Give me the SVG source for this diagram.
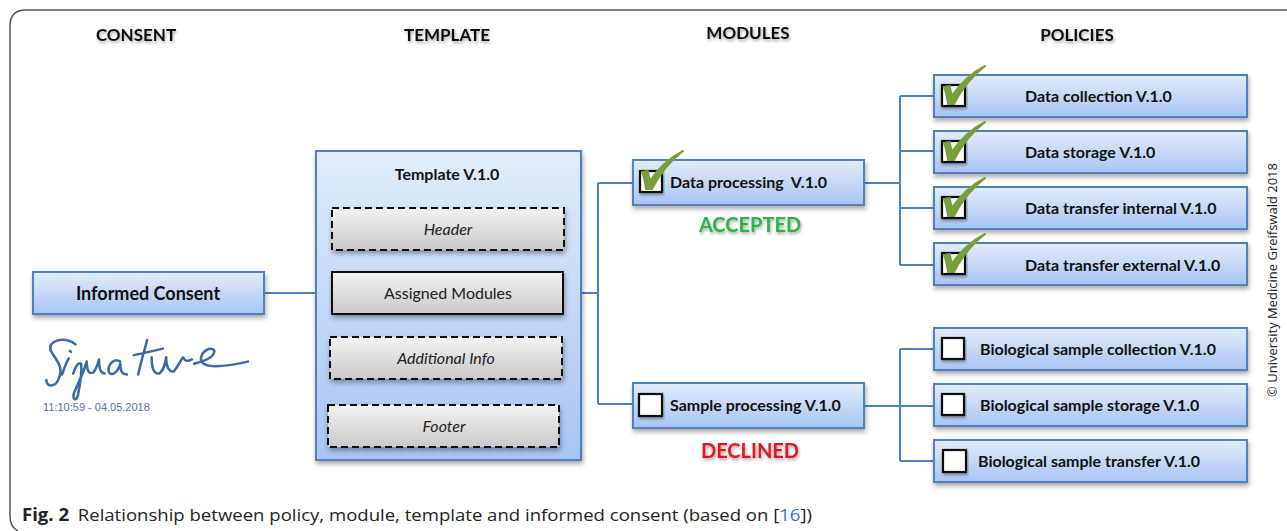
<svg xmlns="http://www.w3.org/2000/svg" width="1287" height="531" viewBox="0 0 1287 531">
<defs>
<linearGradient id="blue" x1="0" y1="0" x2="0" y2="1">
<stop offset="0" stop-color="#e2ecfb"/>
<stop offset="1" stop-color="#a7c5f3"/>
</linearGradient>
<linearGradient id="gray" x1="0" y1="0" x2="0" y2="1">
<stop offset="0" stop-color="#f3f3f3"/>
<stop offset="1" stop-color="#c9c9c9"/>
</linearGradient>
<filter id="sh" x="-10%" y="-20%" width="120%" height="150%">
<feDropShadow dx="1" dy="3" stdDeviation="2.5" flood-color="#000" flood-opacity="0.35"/>
</filter>
<filter id="tsh" x="-10%" y="-30%" width="120%" height="170%">
<feDropShadow dx="1" dy="2" stdDeviation="1.5" flood-color="#000" flood-opacity="0.35"/>
</filter>
<g id="check">
<path d="M 2 1 C 4 6 5 11 6 18 L 12 18 C 19 4 29 -9 43 -20 C 28 -12 17 -1 10 10 C 9 6 8 3 8 0 Z" fill="#76a03a" stroke="#76a03a" stroke-width="2" stroke-linejoin="round"/>
</g>
</defs>
<style>
.box{fill:url(#blue);stroke:#4f81bd;stroke-width:2;filter:url(#sh)}
.gbox{fill:url(#gray);stroke:#111;stroke-width:2;filter:url(#sh)}
.dash{stroke-dasharray:7 4}
.cb{fill:#fff;stroke:#111;stroke-width:2.2;filter:url(#tsh)}
.hdr{font-family:Lato,"Open Sans",sans-serif;font-weight:bold;font-size:17px;fill:#111;text-anchor:middle;filter:url(#tsh)}
.lbl{font-family:Lato,"Open Sans",sans-serif;font-weight:bold;font-size:16px;fill:#111}
.mid{text-anchor:middle}
.it{font-family:Lato,"Open Sans",sans-serif;font-style:italic;font-size:16px;fill:#222;text-anchor:middle}
.conn{fill:none;stroke:#4f81bd;stroke-width:2}
</style>
<rect width="1287" height="531" fill="#fff"/>
<path d="M 1287 10 H 26 Q 10 10 10 26 V 516 Q 10 527 18 531" fill="none" stroke="#555" stroke-width="1.5"/>

<g id="headers">
<text class="hdr" x="136" y="41">CONSENT</text>
<text class="hdr" x="447" y="41">TEMPLATE</text>
<text class="hdr" x="748" y="39">MODULES</text>
<text class="hdr" x="1077" y="41">POLICIES</text>
</g>

<g id="connectors">
<path class="conn" d="M 264 293 H 316"/>
<path class="conn" d="M 581 293 H 598 M 598 183 V 404 M 598 183 H 633 M 598 404 H 633"/>
<path class="conn" d="M 864 183 H 900 M 900 96 V 265 M 900 96 H 934 M 900 151 H 934 M 900 208 H 934 M 900 265 H 934"/>
<path class="conn" d="M 864 406 H 900 M 900 349 V 461 M 900 349 H 934 M 900 406 H 934 M 900 461 H 934"/>
</g>

<g id="informed-consent">
<rect class="box" x="33" y="272" width="231" height="42"/>
<text class="lbl mid" x="148" y="300" style="font-size:18px">Informed Consent</text>
</g>

<g id="signature">
<path transform="translate(43 340) scale(1.12 1.08) translate(-43 -340)" d="M 72 344 C 64 336 46 340 50 350 C 54 358 62 364 57 376 C 54 384 46 384 46 377 M 60 372 C 62 366 64 360 66 357 M 67 350 L 68 351 M 70 371 C 72 364 75 360 77 362 C 78 370 76 382 74 392 C 72 398 68 394 72 386 C 76 376 80 368 82 360 M 82 360 C 82 368 84 372 88 370 C 91 366 92 362 93 358 C 93 366 94 371 98 371 M 112 360 C 106 356 100 364 102 370 C 104 374 110 370 112 362 C 112 368 113 372 118 372 M 128 372 C 130 362 133 352 136 340 M 124 354 C 134 352 142 350 150 348 M 140 356 C 140 366 142 372 147 371 C 151 368 152 362 153 356 C 153 364 155 370 160 369 M 160 369 C 164 364 166 358 168 356 C 170 360 172 360 176 358 M 178 362 C 186 360 196 356 196 350 C 194 345 184 350 184 358 C 185 366 200 366 226 360" fill="none" stroke="#3d6ba4" stroke-width="2.3" stroke-linecap="round" stroke-linejoin="round"/>
<text x="43" y="411" font-family="Liberation Sans, Arial, sans-serif" font-size="11" fill="#5b7396">11:10:59 - 04.05.2018</text>
</g>

<g id="template">
<rect class="box" x="316" y="151" width="265" height="309"/>
<text class="lbl mid" x="447" y="180">Template V.1.0</text>
</g>
<g id="header">
<rect class="gbox dash" x="332" y="208" width="232" height="42"/>
<text class="it" x="448" y="235">Header</text>
</g>
<g id="assigned-modules">
<rect class="gbox" x="332" y="272" width="231" height="42"/>
<text class="it" x="448" y="299" style="font-style:normal">Assigned Modules</text>
</g>
<g id="additional-info">
<rect class="gbox dash" x="330" y="337" width="232" height="42"/>
<text class="it" x="446" y="364">Additional Info</text>
</g>
<g id="footer">
<rect class="gbox dash" x="328" y="405" width="231" height="42"/>
<text class="it" x="444" y="432">Footer</text>
</g>

<g id="data-processing">
<rect class="box" x="633" y="160" width="231" height="45"/>
<rect class="cb" x="640" y="171" width="22" height="21"/>
<use href="#check" x="640" y="171"/>
<text class="lbl" x="670" y="188" xml:space="preserve">Data processing  V.1.0</text>
</g>
<text id="accepted" x="750" y="232" font-family="Lato,'Open Sans',sans-serif" font-weight="bold" font-size="20" fill="#2eb24a" text-anchor="middle" filter="url(#tsh)">ACCEPTED</text>

<g id="sample-processing">
<rect class="box" x="633" y="383" width="231" height="45"/>
<rect class="cb" x="639" y="394" width="23" height="22"/>
<text class="lbl" x="670" y="411">Sample processing V.1.0</text>
</g>
<text id="declined" x="750" y="458" font-family="Lato,'Open Sans',sans-serif" font-weight="bold" font-size="20" fill="#e8141c" text-anchor="middle" filter="url(#tsh)">DECLINED</text>

<g id="data-collection">
<rect class="box" x="934" y="75" width="313" height="42"/>
<rect class="cb" x="942" y="85" width="23" height="21"/>
<use href="#check" x="942" y="86"/>
<text class="lbl" x="1025" y="102">Data collection V.1.0</text>
</g>
<g id="data-storage">
<rect class="box" x="934" y="131" width="313" height="42"/>
<rect class="cb" x="942" y="141" width="23" height="21"/>
<use href="#check" x="942" y="142"/>
<text class="lbl" x="1025" y="158">Data storage V.1.0</text>
</g>
<g id="data-transfer-internal">
<rect class="box" x="934" y="187" width="313" height="42"/>
<rect class="cb" x="942" y="197" width="23" height="21"/>
<use href="#check" x="942" y="198"/>
<text class="lbl" x="1025" y="214">Data transfer internal V.1.0</text>
</g>
<g id="data-transfer-external">
<rect class="box" x="934" y="243" width="313" height="42"/>
<rect class="cb" x="942" y="253" width="23" height="21"/>
<use href="#check" x="942" y="254"/>
<text class="lbl" x="1025" y="271">Data transfer external V.1.0</text>
</g>

<g id="bio-collection">
<rect class="box" x="934" y="328" width="313" height="42"/>
<rect class="cb" x="942" y="338" width="22" height="21"/>
<text class="lbl" x="980" y="355">Biological sample collection V.1.0</text>
</g>
<g id="bio-storage">
<rect class="box" x="934" y="384" width="313" height="42"/>
<rect class="cb" x="942" y="394" width="22" height="21"/>
<text class="lbl" x="980" y="411">Biological sample storage V.1.0</text>
</g>
<g id="bio-transfer">
<rect class="box" x="934" y="440" width="313" height="42"/>
<rect class="cb" x="943" y="450" width="23" height="22"/>
<text class="lbl" x="978" y="467">Biological sample transfer V.1.0</text>
</g>

<text id="copyright" transform="translate(1277 280) rotate(-90)" font-family="'Open Sans',Lato,sans-serif" font-size="13" fill="#222" text-anchor="middle">© University Medicine Greifswald 2018</text>

<text id="caption" x="22" y="521" font-family="'Open Sans',sans-serif" font-size="17" fill="#222" textLength="790" lengthAdjust="spacingAndGlyphs"><tspan font-weight="bold">Fig. 2</tspan><tspan dx="8">Relationship between policy, module, template and informed consent (based on [</tspan><tspan fill="#3a6fd8">16</tspan><tspan>])</tspan></text>
</svg>
